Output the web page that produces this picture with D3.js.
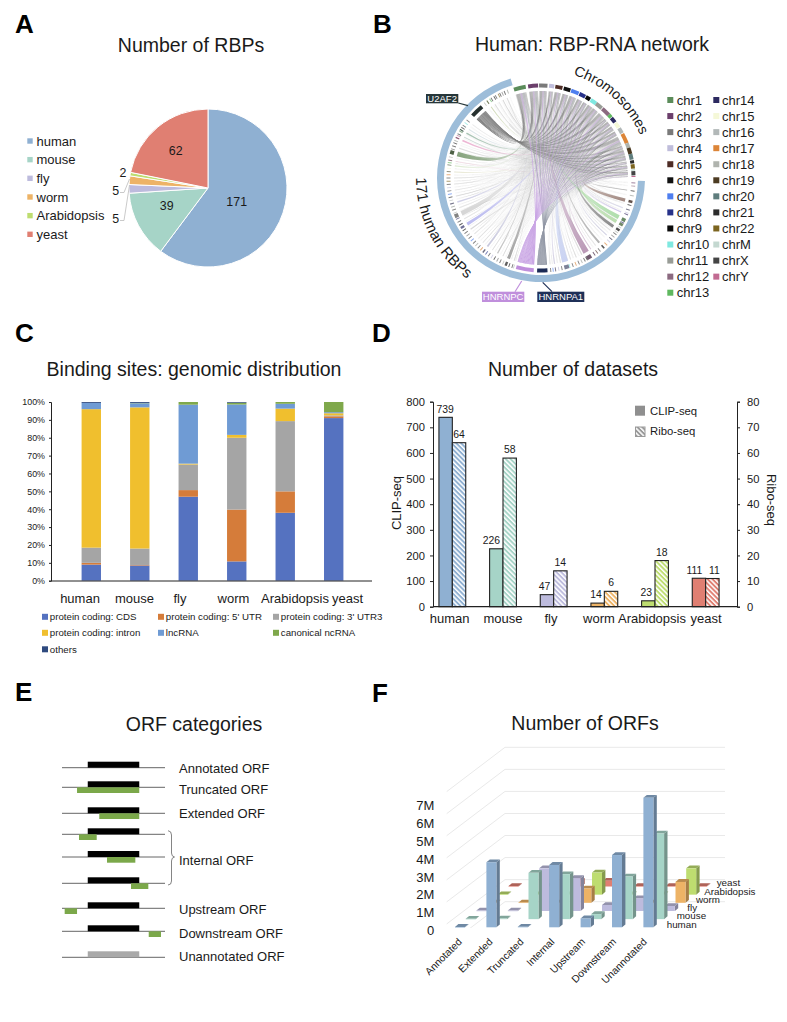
<!DOCTYPE html>
<html><head><meta charset="utf-8">
<script src="https://cdnjs.cloudflare.com/ajax/libs/d3/7.8.5/d3.min.js"></script>
<style>
html,body{margin:0;padding:0;background:#fff}
svg{display:block}
text{font-family:"Liberation Sans",Arial,sans-serif;fill:#1a1a1a}
</style></head><body><svg id="c" width="787" height="1022"></svg>
<script>
// ---------- shared
const species = ["human","mouse","fly","worm","Arabidopsis","yeast"];
const speciesColors = ["#8FB0D2","#A6D4C7","#BDBBDD","#EDB366","#BEDD70","#E07F72"];
// ---------- A
const rbpCounts = [171,39,5,5,2,62];
// ---------- B
const chrNames = ["chr1","chr2","chr3","chr4","chr5","chr6","chr7","chr8","chr9","chr10","chr11","chr12","chr13","chr14","chr15","chr16","chr17","chr18","chr19","chr20","chr21","chr22","chrM","chrX","chrY"];
const chrColors = ["#5B8C5A","#6B3F6B","#7A7A7A","#BFBDDB","#4E2C25","#111111","#4F7FEF","#27328A","#0A0A0A","#7FE8E0","#989C96","#8B6A80","#5FB85F","#2C2A60","#F5F8D8","#B2B8B8","#DC8538","#B0B4AE","#4C3B22","#5F7D7D","#2C2C2C","#7C6520","#C4D8D0","#444444","#C26B92"];
const chrStartDeg = [-17,-8,-1.2,5,8.9,14.2,19,24.5,29,32.5,36.5,41.5,47,49.5,53.5,57.5,61.5,68,71,75,79,81.5,84.6,85.8,88.8];
const chrEndDeg   = [-9.5,-1.8,4,8.2,13.4,18.5,24,28.5,32,36.5,41,47,49.2,53,57,61,68,71,75,78.5,81,84.2,85.5,88.4,89.4];
const hubNames = ["U2AF2","HNRNPC","HNRNPA1"];
const hubColors = ["#7C7C7C","#C9A5E4","#8F95A3"];
const hubCellColors = ["#26302F","#BF8FDC","#1B2A55"];
const hubStartDeg = [312.3,184.5,176];
const hubEndDeg = [320.4,195.5,182.4];
const u2af2Weights  = [9,8,7,4,5,5,6,4,4,4,6,6,1,2,3,4,7,1,7,2,1,2,0.3,3,0.1];
const hnrnpcWeights = [8,9,6,5,5,6,5,5,4,3,5,5,2,3,3,3,5,2,4,2,1,1,0.3,4,0.1];
const hnrnpa1Weights= [9,7,6,4,5,5,6,4,5,4,6,6,1,3,3,3,6,1,6,3,1,2,0.3,3,0.1];
// small RBP links: position on the arc, span, colour, target chromosome index
const smallDeg   = [98,104.7,110,113,116.8,120,123.8,127,131,138,141,145,148.7,152,156,160,163.9,167,171,174,198,202,206,210,214,218,222,226,230,234,238,242,246,250,254,258,262,266,270,274,278,281,286,290,295.5,298,301,304,308,325,328,331,334,337];
const smallSpan  = [0.6,2.2,0.6,0.8,2.8,2.4,2,0.6,0.6,1.4,0.6,0.6,4,0.7,0.6,0.6,4,0.8,0.8,0.6,0.6,2,0.5,0.8,0.5,1.2,0.5,0.5,0.6,0.8,2,0.5,3.2,0.6,1,0.6,0.6,0.6,0.6,0.6,0.8,0.6,3.2,0.6,1,0.6,1,0.6,0.5,0.6,0.5,0.5,0.5,0.6];
const smallColor = ["#8d8d8d","#9b8078","#c9c9e6","#b9a8e6","#a8dca4","#b5dca8","#7f7f7f","#d4d4d4","#b8b8d8","#8e8e8e","#dddddd","#c7a7c7","#b48fb0","#cccccc","#d0d0d0","#d8d8d8","#c5cff2","#dddddd","#c9c4e0","#dddddd","#cccccc","#999999","#cccccc","#a8a8a8","#cccccc","#b0b0d0","#d4d4d4","#d4d4d4","#d8d8d8","#c8c8c8","#b4b4f0","#d4d4d4","#d2d2d2","#dddddd","#bcbce0","#c8c8c8","#dddddd","#dddddd","#dddddd","#e6e6c8","#d4e8c4","#f0c8d8","#7a9a70","#cccccc","#e890c0","#b0c8c0","#7ea890","#c8d8e0","#dddddd","#b8c890","#c4c4c4","#d8d8d8","#b8b8b8","#c8c8c8"];
const smallTarget= [23,21,20,18,1,16,12,9,13,5,8,7,2,2,6,4,8,3,10,11,0,2,6,1,4,0,11,5,3,16,7,1,2,8,6,10,4,0,12,14,1,24,0,16,11,19,6,9,3,2,7,5,10,0];
const tickDeg   = [93,95,101,107,112,118.6,122,125.5,129,133,135.5,143,150.5,154,158,162,169,172.5,197,200,204,208,212,216,220,224,228,232,236,240,244,248,252,256,260,264,268,272,276,279.5,283,288,292,293.5,297,300,302.5,306,323,327,330,333,335.5,339];
const tickColor = [1,11,10,5,3,13,15,17,2,3,16,4,5,10,16,9,3,6,15,5,17,2,3,7,16,10,6,2,8,5,13,17,10,15,6,3,21,16,14,12,17,2,5,10,24,0,20,9,17,12,5,21,2,10];
// ---------- C
const bindingTypes = ["protein coding: CDS","protein coding: 5' UTR","protein coding: 3' UTR3","protein coding: intron","lncRNA","canonical ncRNA","others"];
const bindingColors = ["#5572C0","#D57C3A","#A5A5A5","#F0BF2E","#6F9BD4","#7FA84B","#2F4A7F"];
const cdsPct    = [9,8.5,47,10.8,38,91];
const utr5Pct   = [1,0.3,3.7,29,12,1];
const utr3Pct   = [8.5,9.2,14.3,40.2,39.3,0.5];
const intronPct = [77.5,79,0.5,1.6,7,1.2];
const lncPct    = [3.5,2.3,33,17,2.7,0.6];
const ncPct     = [0,0.2,1.5,1,1,5.7];
const otherPct  = [0.5,0.5,0,0.4,0,0];
const pctTicks  = [0,10,20,30,40,50,60,70,80,90,100];
// ---------- D
const clipCounts = [739,226,47,14,23,111];
const riboCounts = [64,58,14,6,18,11];
const clipLabelNudge = [-0.5,-5,-2.5,-1.5,-2,-4.5];
const riboLabelNudge = [0,0,0,0,0,2];
// ---------- E
const orfNames = ["Annotated ORF","Truncated ORF","Extended ORF","Internal ORF","Upstream ORF","Downstream ORF","Unannotated ORF"];
const codingStart = 25, codingEnd = 75;
const greenStart = [null,14.6,36.2,16.5,43.7,67,2.6,84.2,null];
const greenEnd   = [null,75,75,33.7,71.2,83.8,14.6,96.1,null];
// ---------- F
const orfCats = ["Annotated","Extended","Truncated","Internal","Upstream","Downstream","Unannotated"];
const orfHuman = [0.02,3.36,0.03,3.22,0.46,3.73,6.69];
const orfMouse = [0.02,0.03,2.39,2.32,0.26,2.2,4.42];
const orfFly   = [0.02,0.02,2.2,1.7,0.31,0.65,0.26];
const orfWorm  = [0.02,0.02,0.02,0.74,0.02,0.02,1.08];
const orfArab  = [0.02,0.02,0.02,1.14,0.02,0.02,1.36];
const orfYeast = [0.02,0.02,0.3,0.3,0.02,0.02,0.02];
const orfTicks = [0,1,2,3,4,5,6,7];

const svg = d3.select("#c");
const rad = d => d*Math.PI/180;
function txt(p,x,y,s,size,o={}){const t=p.append("text").attr("x",x).attr("y",y).attr("font-size",size).text(s);
 if(o.anchor)t.attr("text-anchor",o.anchor); t.attr("dy",o.dy===undefined?"0.35em":o.dy); if(o.weight)t.attr("font-weight",o.weight); if(o.fill)t.style("fill",o.fill); if(o.rot!==undefined)t.attr("transform",`rotate(${o.rot} ${x} ${y})`); return t;}

// panel letters + titles
[["A",15,33],["B",373,33],["C",15,342],["D",372,342],["E",15,701],["F",372,702]].forEach(d=>txt(svg,d[1],d[2],d[0],26,{weight:"bold",dy:0,fill:"#000"}));
[["Number of RBPs",191,45],["Human: RBP-RNA network",592,44],["Binding sites: genomic distribution",194,369],["Number of datasets",573,369],["ORF categories",194,724],["Number of ORFs",585,723]].forEach(d=>txt(svg,d[1],d[2],d[0],19.5,{anchor:"middle"}));

// ---------- A pie
(function(){
 const g=svg.append("g").attr("transform","translate(208,188)");
 const pie=d3.pie().sort(null)(rbpCounts);
 const arc=d3.arc().innerRadius(0).outerRadius(79);
 g.selectAll("path").data(pie).join("path").attr("d",arc).attr("fill",(d,i)=>speciesColors[i]).attr("stroke","#fff").attr("stroke-width",1);
 const legendY=d3.scalePoint().domain(species).range([141,234.3]);
 species.forEach((s,i)=>{svg.append("rect").attr("x",27.3).attr("y",legendY(s)-2.7).attr("width",5.4).attr("height",5.4).attr("fill",speciesColors[i]);
  txt(svg,36.5,legendY(s),s,13);});
 [[rbpCounts[0],236.7,201.7],[rbpCounts[1],166.7,206],[rbpCounts[5],175.7,150.7],[rbpCounts[4],123,172.3],[rbpCounts[2],115.7,190.3],[rbpCounts[3],115.7,218.3]].forEach(d=>txt(svg,d[1],d[2],d[0],12.4,{anchor:"middle"}));
 const leader=d3.line();
 [[[120,192.5],[124,192.5],[129.5,179]],[[120,220.5],[124,220.5],[129.5,185]]].forEach(p=>svg.append("path").attr("d",leader(p)).attr("fill","none").attr("stroke","#bdbdbd").attr("stroke-width",.8));
})();

// ---------- B chord
(function(){
 const cx=541,cy=178;
 const defs=svg.append("defs");
 const g=svg.append("g").attr("transform",`translate(${cx},${cy})`);
 const R=87;
 const ribbon=d3.ribbon().radius(R);
 const ends=(a0,a1,b0,b1)=>({source:{startAngle:rad(a0),endAngle:rad(a1)},target:{startAngle:rad(b0),endAngle:rad(b1)}});
 // pale web: every listed RBP binds RNAs of every chromosome
 const hazeG=g.append("g").attr("fill","#777").attr("fill-opacity",.075);
 const allRbp=smallDeg.map((d,i)=>[d,Math.max(smallSpan[i],.9)]).concat(tickDeg.map(d=>[d,.9])).sort((a,b)=>a[0]-b[0]);
 allRbp.forEach((r,ri)=>{
  chrNames.forEach((n,c)=>{
   const w=chrEndDeg[c]-chrStartDeg[c], a0=r[0]-r[1]/2+r[1]*c/25, a1=a0+r[1]/25;
   const frac=1-(ri+1)/allRbp.length;
   const b0=chrStartDeg[c]+w*(.04+.9*frac);
   hazeG.append("path").attr("d",ribbon(ends(a0,a1,b0,b0+w*.05)));
  });
 });
 const linkG=g.append("g");
 let gid=0;
 function link(a0,a1,b0,b1,col,opA,opB,midK){
  const id="lg"+(gid++), ma=rad((a0+a1)/2), mb=rad((b0+b1)/2);
  const lg=defs.append("linearGradient").attr("id",id).attr("gradientUnits","userSpaceOnUse")
    .attr("x1",R*Math.sin(ma)).attr("y1",-R*Math.cos(ma)).attr("x2",R*Math.sin(mb)).attr("y2",-R*Math.cos(mb));
  lg.append("stop").attr("offset",0).attr("stop-color",col).attr("stop-opacity",opA);
  lg.append("stop").attr("offset",0.45).attr("stop-color",col).attr("stop-opacity",opA*midK);
  lg.append("stop").attr("offset",1).attr("stop-color",col).attr("stop-opacity",opB);
  linkG.append("path").attr("d",ribbon(ends(a0,a1,b0,b1))).attr("fill",`url(#${id})`);
 }
 // small links below the hubs
 const usedSlots=chrNames.map(()=>0);
 smallDeg.forEach((d,i)=>{
  const c=smallTarget[i], w=chrEndDeg[c]-chrStartDeg[c], sub=Math.min(.18*w,.12+smallSpan[i]*.12);
  const s=chrStartDeg[c]+w*.8+usedSlots[c]*.05*w; usedSlots[c]=(usedSlots[c]+1)%4;
  link(d-smallSpan[i]/2,d+smallSpan[i]/2,s,s+sub,smallColor[i],smallSpan[i]>1.5?.9:.65,.08,.4);
 });
 // hub fans: each spreads over all chromosomes
 const fans=[[u2af2Weights,.0,.40,1,.22],[hnrnpa1Weights,.6,.8,1,.22],[hnrnpcWeights,.42,.58,1,.45]];
 const fanHub=[0,2,1];
 fans.forEach((f,k)=>{
  const h=fanHub[k], total=d3.sum(f[0]);
  const hs=d3.scaleLinear().domain([0,total]).range([hubStartDeg[h],hubEndDeg[h]]);
  let acc=0;
  f[0].forEach((wv,c)=>{
   const w=chrEndDeg[c]-chrStartDeg[c];
   link(hs(acc),hs(acc+wv)+.08,chrStartDeg[c]+f[1]*w,chrStartDeg[c]+f[2]*w,hubColors[h],f[3],f[4],.8);
   acc+=wv;
  });
 });
 const arc=d3.arc().innerRadius(90.5).outerRadius(94.5);
 g.selectAll(".chr").data(chrNames).join("path").attr("d",(d,i)=>arc({startAngle:rad(chrStartDeg[i]),endAngle:rad(chrEndDeg[i])})).attr("fill",(d,i)=>chrColors[i]);
 hubNames.forEach((n,i)=>g.append("path").attr("d",arc({startAngle:rad(hubStartDeg[i]),endAngle:rad(hubEndDeg[i])})).attr("fill",hubCellColors[i]));
 smallDeg.forEach((d,i)=>{const sp=Math.max(smallSpan[i]*.75,.6);g.append("path").attr("d",arc({startAngle:rad(d-sp/2),endAngle:rad(d+sp/2)})).attr("fill",d3.color(smallColor[i]).darker(1.3));});
 tickDeg.forEach((d,i)=>g.append("path").attr("d",arc({startAngle:rad(d-.3),endAngle:rad(d+.3)})).attr("fill",chrColors[tickColor[i]]).attr("opacity",.65));
 // outer band
 g.append("path").attr("d",d3.arc().innerRadius(97).outerRadius(104)({startAngle:rad(91.6),endAngle:rad(343)})).attr("fill","#9DBDD9");
 // curved labels
 const p=d3.path();p.arc(0,0,108,rad(12-90),rad(72-90));
 defs.append("path").attr("id","pChr").attr("d",p.toString()).attr("transform",`translate(${cx},${cy})`);
 const p2=d3.path();p2.arc(0,0,125,rad(280-90),rad(205-90),true);
 defs.append("path").attr("id","pRbp").attr("d",p2.toString()).attr("transform",`translate(${cx},${cy})`);
 svg.append("text").attr("font-size",14.3).attr("text-anchor","middle").append("textPath").attr("href","#pChr").attr("startOffset","50%").text("Chromosomes");
 svg.append("text").attr("font-size",15).attr("text-anchor","middle").append("textPath").attr("href","#pRbp").attr("startOffset","49%").text("171 human RBPs");
 // hub labels
 [[426,94,32.3,9.3,hubNames[0],458.3,103,468,105.7,"#27373A"],[482,291.7,42.3,10.3,hubNames[1],515,291.7,521.7,281,"#C08FDC"],[537.3,291.7,47,10.3,hubNames[2],552,291.7,542.7,282.3,"#1F3058"]].forEach(d=>{
  svg.append("line").attr("x1",d[5]).attr("y1",d[6]).attr("x2",d[7]).attr("y2",d[8]).attr("stroke",d[9]).attr("stroke-width",1.2);
  svg.append("rect").attr("x",d[0]).attr("y",d[1]).attr("width",d[2]).attr("height",d[3]).attr("fill",d[9]);
  txt(svg,d[0]+d[2]/2,d[1]+d[3]/2,d[4],9.5,{anchor:"middle",fill:"#fff"});
 });
 // legend
 const ly=d3.scaleLinear().domain([0,12]).range([100,292.7]);
 chrNames.forEach((n,i)=>{const col=i<13?0:1, r=i<13?i:i-13, x=col?713.3:667.3, tx=col?722:676.7;
  svg.append("rect").attr("x",x).attr("y",ly(r)-3).attr("width",6).attr("height",6).attr("fill",chrColors[i]);
  txt(svg,tx,ly(r),n,13);});
})();

// ---------- C stacked
(function(){
 const x=d3.scaleBand().domain(species).range([52.5,372.5]).padding(0.6);
 const y=d3.scaleLinear().domain([0,100]).range([580.7,402]);
 const rows=species.map((s,i)=>({s,cds:cdsPct[i],u5:utr5Pct[i],u3:utr3Pct[i],intr:intronPct[i],lnc:lncPct[i],nc:ncPct[i],oth:otherPct[i]}));
 const keys=["cds","u5","u3","intr","lnc","nc","oth"];
 const st=d3.stack().keys(keys)(rows);
 const g=svg.append("g");
 st.forEach((l,k)=>g.append("g").attr("fill",bindingColors[k]).selectAll("rect").data(l).join("rect")
   .attr("x",d=>x(d.data.s)).attr("width",x.bandwidth()).attr("y",d=>y(d[1])).attr("height",d=>y(d[0])-y(d[1])));
 const ax=svg.append("g").attr("transform","translate(51,0)").call(d3.axisLeft(y).tickValues(pctTicks).tickFormat(d=>d+"%").tickSize(2).tickPadding(4));
 ax.selectAll("text").attr("font-size",8.9).style("font-family","Liberation Sans");
 ax.selectAll("path,line").attr("stroke","#222");
 svg.append("line").attr("x1",51).attr("x2",372).attr("y1",581).attr("y2",581).attr("stroke","#222");
 const catX=d3.scaleLinear().domain([0,5]).range([80,347.5]);
 const tweak=[0,1,-7,-7,1,0];
 species.forEach((s,i)=>txt(svg,catX(i)+tweak[i],598,s,13,{anchor:"middle"}));
 const lx=[42,158,273], ly=[617,633,649.5];
 bindingTypes.forEach((t,i)=>{const c=i%3,r=Math.floor(i/3);
  svg.append("rect").attr("x",lx[c]).attr("y",ly[r]-3.2).attr("width",6).attr("height",6).attr("fill",bindingColors[i]);
  txt(svg,lx[c]+7.8,ly[r],t,9.7);});
})();

// ---------- D grouped
(function(){
 const defs=svg.append("defs");
 speciesColors.concat(["#999999"]).forEach((c,i)=>{
  const p=defs.append("pattern").attr("id","h"+i).attr("patternUnits","userSpaceOnUse").attr("width",3.4).attr("height",3.4).attr("patternTransform","rotate(45)");
  p.append("rect").attr("width",3.4).attr("height",3.4).attr("fill","#fff");
  p.append("rect").attr("width",3.4).attr("height",1.9).attr("fill",c);
 });
 const x=d3.scaleBand().domain(species).range([427,731]);
 const yL=d3.scaleLinear().domain([0,800]).range([606.7,401.7]);
 const yR=d3.scaleLinear().domain([0,80]).range([606.7,401.7]);
 const bw=13.4, c=s=>x(s)+x.bandwidth()/2;
 species.forEach((s,i)=>{
  svg.append("rect").attr("x",c(s)-bw).attr("width",bw).attr("y",yL(clipCounts[i])).attr("height",606.7-yL(clipCounts[i])).attr("fill",speciesColors[i]).attr("stroke","#222").attr("stroke-width",1.1);
  svg.append("rect").attr("x",c(s)).attr("width",bw).attr("y",yR(riboCounts[i])).attr("height",606.7-yR(riboCounts[i])).attr("fill",`url(#h${i})`).attr("stroke","#222").attr("stroke-width",1.1);
  txt(svg,c(s)-bw/2+clipLabelNudge[i],yL(clipCounts[i])-8.3,clipCounts[i],10.4,{anchor:"middle"});
  txt(svg,c(s)+bw/2+riboLabelNudge[i],yR(riboCounts[i])-8.5,riboCounts[i],10.4,{anchor:"middle"});
 });
 const labelX=[449.7,503,551,599,652,706];
 species.forEach((s,i)=>txt(svg,labelX[i],618,s,13,{anchor:"middle"}));
 const aL=svg.append("g").attr("transform","translate(433,0)").call(d3.axisLeft(yL).ticks(8).tickSize(3).tickPadding(5));
 const aR=svg.append("g").attr("transform","translate(737,0)").call(d3.axisRight(yR).ticks(8).tickSize(3).tickPadding(7));
 [aL,aR].forEach(a=>{a.selectAll("text").attr("font-size",11.2).style("font-family","Liberation Sans");a.selectAll("path,line").attr("stroke","#222").attr("stroke-width",1);});
 svg.append("line").attr("x1",433).attr("x2",737).attr("y1",606.7).attr("y2",606.7).attr("stroke","#222").attr("stroke-width",1.2);
 txt(svg,396,503,"CLIP-seq",13,{anchor:"middle",rot:-90});
 txt(svg,772,500,"Ribo-seq",13,{anchor:"middle",rot:90});
 svg.append("rect").attr("x",635).attr("y",405.7).attr("width",10).attr("height",10).attr("fill","#8f8f8f");
 svg.append("rect").attr("x",635.5).attr("y",427).attr("width",9.5).attr("height",9.5).attr("fill","url(#h6)").attr("stroke","#999").attr("stroke-width",1);
 txt(svg,650,411,"CLIP-seq",11.3); txt(svg,650,431.5,"Ribo-seq",11.3);
})();

// ---------- E schematic
(function(){
 const x=d3.scaleLinear().domain([0,100]).range([62,165]);
 const rowY=[767.7,787.3,813.3,834.3,857,883.3,908.3,931.3,957.3];
 rowY.forEach((y,i)=>{
  svg.append("line").attr("x1",x(0)).attr("x2",x(100)).attr("y1",y).attr("y2",y).attr("stroke","#666").attr("stroke-width",1);
  svg.append("rect").attr("x",x(codingStart)).attr("width",x(codingEnd)-x(codingStart)).attr("y",y-6).attr("height",6).attr("fill",i===8?"#A9A9A9":"#000");
  if(greenStart[i]!==null) svg.append("rect").attr("x",x(greenStart[i])).attr("width",x(greenEnd[i])-x(greenStart[i])).attr("y",y).attr("height",5.7).attr("fill","#7BA84A");
 });
 const labelY=[768.3,789.3,813,860,909.3,933,956.3];
 orfNames.forEach((n,i)=>txt(svg,179,labelY[i],n,13));
 svg.append("path").attr("d","M168,830.7 Q171.5,831 171.5,835 L171.5,853 Q171.5,856.5 174.5,857 Q171.5,857.5 171.5,861 L171.5,881 Q171.5,885 168,885").attr("fill","none").attr("stroke","#666").attr("stroke-width",.8);
})();

// ---------- F 3D bars
(function(){
 const catX=d3.scaleLinear().domain([0,6]).range([455,643.4]);
 const depthX=d3.scaleLinear().domain([0,5]).range([0,53.5]);
 const baseY=d3.scaleLinear().domain([0,5]).range([927.3,886.5]);
 const h=d3.scaleLinear().domain([0,7]).range([0,135.6]);
 const wallY=d3.scaleLinear().domain([0,7]).range([901.7,747.3]);
 const clip=svg.append("defs").append("clipPath").attr("id","floor");
 clip.append("rect").attr("x",400).attr("y",700).attr("width",387).attr("height",228);
 const gr=svg.append("g").attr("clip-path","url(#floor)");
 orfTicks.forEach(t=>{const y=wallY(t);
  gr.append("path").attr("d",d3.line()([[446.7,y+44.3],[505,y],[725,y]])).attr("fill","none").attr("stroke","#E9E9E9").attr("stroke-width",1);
 });
 const seriesVals=[orfHuman,orfMouse,orfFly,orfWorm,orfArab,orfYeast];
 const W=10,DX=3.4,DY=2.8;
 for(let s=5;s>=0;s--){
  const col=d3.color(speciesColors[s]);
  orfCats.forEach((c,i)=>{
   const x0=catX(i)+depthX(s), b=baseY(s), hh=h(seriesVals[s][i]), top=b-hh;
   const g=svg.append("g");
   const ln=d3.line();
   g.append("path").attr("d",ln([[x0+W,top],[x0+W+DX,top-DY],[x0+W+DX,b-DY],[x0+W,b]])+"Z").attr("fill",col.darker(1).formatHex());
   g.append("path").attr("d",ln([[x0,top],[x0+W,top],[x0+W+DX,top-DY],[x0+DX,top-DY]])+"Z").attr("fill",col.darker(.7).formatHex());
   g.append("rect").attr("x",x0).attr("y",top).attr("width",W).attr("height",Math.max(hh,.6)).attr("fill",col.formatHex());
  });
 }
 const tickY=d3.scaleLinear().domain([0,7]).range([930.7,805.3]);
 orfTicks.forEach(t=>txt(svg,434.3,tickY(t),t===0?"0":t+"M",13,{anchor:"end"}));
 const endX=d3.scaleLinear().domain([0,6]).range([460,645]);
 orfCats.forEach((c,i)=>txt(svg,endX(i),940,c,10.3,{anchor:"end",rot:-45}));
 const lx=[666.7,676.7,687.3,696,704.3,716.7], ly=[924.3,915.3,907.3,899.3,891.7,882.7];
 species.forEach((s,i)=>txt(svg,lx[i],ly[i],s,9.8));
})();
</script></body></html>
